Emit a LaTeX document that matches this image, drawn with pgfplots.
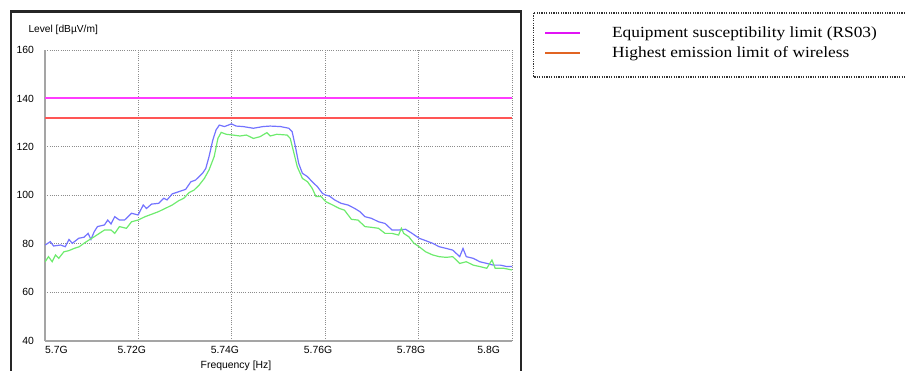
\documentclass[border=0pt]{standalone}
\usepackage{fontspec}
\setmainfont{Liberation Serif}
\newfontfamily\arialf{Liberation Sans}
\newfontfamily\legfont[FakeStretch=1.12]{Liberation Serif}
\usepackage{pgfplots}
\pgfplotsset{compat=1.18}
\definecolor{bluetr}{RGB}{115,115,255}
\definecolor{greentr}{RGB}{110,235,110}
\definecolor{magline}{RGB}{255,60,255}
\definecolor{redline}{RGB}{255,85,85}
\definecolor{legmag}{RGB}{225,20,245}
\definecolor{legorange}{RGB}{225,100,35}
\definecolor{axgray}{RGB}{165,165,165}
\definecolor{gridgray}{RGB}{140,140,140}

\pgfplotstableread{
x y
5700.0 79.5
5701.1 80.9
5701.8 79.1
5703.3 79.5
5704.3 78.8
5705.1 81.8
5705.8 80.2
5707.2 82.3
5708.3 82.7
5709.2 84.3
5709.8 81.8
5710.5 85.0
5711.2 87.1
5712.7 87.8
5713.4 89.8
5714.1 88.2
5714.9 91.2
5715.9 89.8
5717.0 89.8
5718.5 92.6
5719.9 91.9
5721.0 96.0
5721.7 94.6
5722.8 96.4
5724.3 96.7
5725.4 98.8
5726.1 98.1
5727.2 100.6
5728.6 101.5
5730.1 102.5
5731.2 105.6
5732.2 106.3
5733.7 109.1
5734.4 111.1
5735.1 116.0
5735.9 122.8
5736.6 127.0
5737.3 129.0
5738.4 128.4
5739.9 129.5
5740.9 128.6
5742.4 128.4
5744.6 127.7
5746.7 128.4
5748.2 128.6
5750.4 128.4
5752.2 127.7
5752.9 126.3
5753.6 120.1
5754.3 113.2
5755.1 109.1
5756.2 107.7
5757.2 105.6
5758.3 103.6
5759.4 100.8
5760.1 100.1
5760.9 99.7
5762.0 98.1
5763.4 96.7
5764.9 96.0
5766.3 94.6
5767.4 93.3
5768.5 91.2
5769.9 90.5
5771.4 89.1
5772.8 88.4
5774.3 85.7
5775.7 85.7
5777.2 86.0
5778.6 84.3
5780.1 82.3
5781.5 81.3
5783.0 80.2
5784.4 78.8
5785.9 78.1
5787.3 77.4
5788.8 74.7
5789.5 78.1
5790.2 74.7
5791.7 74.0
5793.1 72.6
5794.6 71.9
5796.0 71.2
5797.5 71.2
5798.9 70.6
5800.0 70.6
}\bluedata

\pgfplotstableread{
x y
5700.0 72.6
5700.7 74.7
5701.5 72.6
5702.2 75.4
5702.9 74.0
5704.0 76.7
5705.1 77.2
5706.2 78.1
5707.3 78.8
5708.3 80.2
5709.4 81.6
5710.5 82.9
5711.6 84.3
5712.7 85.7
5714.1 85.7
5714.9 84.3
5715.9 87.1
5717.4 86.4
5718.5 89.1
5719.9 89.8
5721.4 91.2
5722.8 92.2
5724.3 93.3
5725.7 94.6
5727.2 96.0
5728.6 97.8
5729.7 98.8
5730.8 101.1
5731.9 102.2
5733.0 104.3
5734.1 107.0
5735.1 110.5
5736.2 116.0
5737.0 123.5
5737.7 126.0
5738.8 125.2
5740.2 124.9
5741.7 124.5
5743.1 124.9
5744.6 123.5
5746.0 124.2
5747.5 125.9
5748.2 124.5
5749.6 125.2
5751.8 124.9
5752.5 123.5
5753.3 117.3
5754.0 111.8
5755.1 107.0
5756.2 105.6
5757.2 102.9
5758.0 99.5
5759.1 99.5
5760.1 97.4
5761.6 96.0
5763.0 94.6
5764.1 93.9
5765.6 90.1
5767.0 89.8
5768.5 87.1
5769.9 86.8
5771.4 86.4
5772.8 84.3
5774.3 84.3
5775.7 83.6
5776.3 86.4
5776.8 84.3
5777.9 82.9
5779.0 80.2
5780.1 78.8
5781.5 76.7
5783.0 75.4
5784.4 74.7
5785.9 74.4
5787.3 74.7
5788.8 71.9
5790.2 72.6
5791.7 71.2
5793.1 70.6
5794.6 69.9
5795.7 73.3
5796.4 69.9
5798.2 69.9
5800.0 69.2
}\greendata

\begin{document}
\begin{tikzpicture}
\path[use as bounding box] (0,0) rectangle (905bp,-371bp);
\begin{axis}[
  at={(45.2bp,-340.7bp)}, anchor=south west,
  scale only axis, width=466.8bp, height=290.7bp,
  xmin=5700, xmax=5800, ymin=40, ymax=160,
  xtick={5700,5720,5740,5760,5780,5800},
  ytick={40,60,80,100,120,140,160},
  xticklabels={{\makebox[0pt][l]{5.7G}},{\makebox[0pt]{5.72G\hspace{13.5bp}}},{\makebox[0pt]{5.74G\hspace{14bp}}},{\makebox[0pt]{5.76G\hspace{14.5bp}}},{\makebox[0pt]{5.78G\hspace{15bp}}},{\makebox[0pt][r]{5.8G\hspace{12bp}}}},
  grid=major,
  major grid style={dash pattern=on 1bp off 1.2bp, gridgray, line width=0.9bp},
  axis x line*=bottom, axis y line*=left,
  axis line style={axgray, line width=1.8bp},
  major tick length=0pt,
  tick label style={font=\arialf\fontsize{10.4bp}{12bp}\selectfont, inner sep=0pt},
  /pgf/number format/assume math mode=true,
  yticklabel style={anchor=east, xshift=-11bp},
  xticklabel style={anchor=north, yshift=-5bp},
  legend cell align=left,
  legend style={at={(axis description cs:1.0686,1.0802)}, anchor=north west,
    draw=none, fill=none, inner sep=0pt, outer sep=0pt, row sep=7.5bp,
    nodes={inner sep=0pt},
    font=\legfont\fontsize{15.5bp}{18bp}\selectfont},
  legend image code/.code={\draw[#1, line width=2.2bp] (0bp,0bp) -- (35bp,0bp); \path[draw=none,fill=none] (0bp,0bp) -- (67bp,0bp);},
  clip=false,
]
\addplot[bluetr, line width=1.2bp, forget plot] table[x=x,y=y] {\bluedata};
\addplot[greentr, line width=1.2bp, forget plot] table[x=x,y=y] {\greendata};
\addplot[magline, line width=2bp, forget plot] coordinates {(5700,140) (5800,140)};
\addplot[redline, line width=2.5bp, forget plot] coordinates {(5700,132) (5800,132)};
\addlegendimage{legmag}
\addlegendentry{Equipment susceptibility limit (RS03)}
\addlegendimage{legorange}
\addlegendentry{Highest emission limit of wireless}
\end{axis}
\node[anchor=base west, font=\arialf\fontsize{10.2bp}{12bp}\selectfont, inner sep=0pt] at (28.3bp,-32.3bp) {Level [dBµV/m]};
\node[anchor=base, font=\arialf\fontsize{10.4bp}{12bp}\selectfont, inner sep=0pt] at (236bp,-368bp) {Frequency [Hz]};
\draw[line width=2.5bp, black!85] (11bp,-11.5bp) rectangle (521bp,-420bp);
\draw[dash pattern=on 1.2bp off 1.2bp, line width=1.3bp, black!80] (533.5bp,-13bp) rectangle (912bp,-77bp);
\end{tikzpicture}
\end{document}
